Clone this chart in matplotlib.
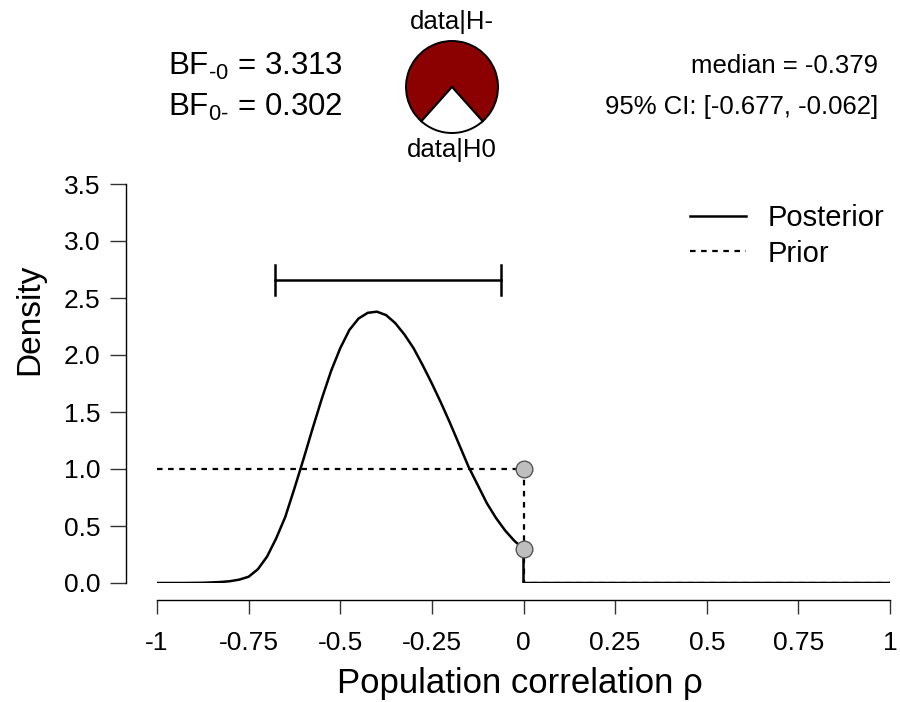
import matplotlib
matplotlib.use("Agg")
from matplotlib import pyplot as plt

plt.rcParams['font.family'] = ['Liberation Sans', 'DejaVu Sans']
plt.rcParams['mathtext.fontset'] = 'custom'
plt.rcParams['mathtext.rm'] = 'Liberation Sans'
plt.rcParams['mathtext.it'] = 'Liberation Sans:italic'

# posterior density (rho <= 0, one-sided)
rho = [-1.0, -0.975, -0.95, -0.925, -0.9, -0.875, -0.85, -0.825, -0.8, -0.775,
       -0.75, -0.725, -0.7, -0.675, -0.65, -0.625, -0.6, -0.575, -0.55, -0.525,
       -0.5, -0.475, -0.45, -0.425, -0.4, -0.375, -0.35, -0.325, -0.3, -0.275,
       -0.25, -0.225, -0.2, -0.175, -0.15, -0.125, -0.1, -0.075, -0.05, -0.025, 0.0]
post = [0.0, 0.0, 0.0, 0.0, 0.001, 0.002, 0.005, 0.009, 0.016, 0.03,
        0.055, 0.12, 0.23, 0.39, 0.58, 0.83, 1.09, 1.36, 1.62, 1.86,
        2.06, 2.22, 2.32, 2.37, 2.38, 2.35, 2.28, 2.18, 2.06, 1.91,
        1.75, 1.58, 1.40, 1.21, 1.02, 0.86, 0.70, 0.57, 0.46, 0.37, 0.30]
prior_x = [-1.0, 0.0]
prior_y = [1.0, 1.0]
zero_x = [0.0, 1.0]
zero_y = [0.0, 0.0]

bf_m0 = 3.313
bf_0m = 0.302
median = -0.379
ci = [-0.677, -0.062]
ci_height = 2.66

xticks = [-1, -0.75, -0.5, -0.25, 0, 0.25, 0.5, 0.75, 1]
xlabels = ['-1', '-0.75', '-0.5', '-0.25', '0', '0.25', '0.5', '0.75', '1']
yticks = [0, 0.5, 1, 1.5, 2, 2.5, 3, 3.5]
ylabels = ['0.0', '0.5', '1.0', '1.5', '2.0', '2.5', '3.0', '3.5']

W, H = 900, 702
fig = plt.figure(figsize=(9, 7.02), dpi=100)
ax = fig.add_axes([157 / W, 1 - 583 / H, 733 / W, 399 / H])
ax.set_xlim(-1, 1)
ax.set_ylim(0, 3.5)

# posterior: curve, drop at 0, flat zero for rho > 0
ax.plot(rho + [0.0] + zero_x, post + [0.0] + zero_y, color='black', lw=1.8, label='Posterior', zorder=3)
# prior
ax.plot(prior_x + [0.0] + zero_x, prior_y + [0.0] + zero_y, color='black', lw=1.6,
        ls=(0, (2.5, 2.5)), label='Prior', zorder=2)
# savage-dickey points
ax.plot([0, 0], [prior_y[-1], post[-1]], 'o', ms=12, mfc='#bebebe', mec='#555555', mew=1, zorder=4,
        clip_on=False)
# credible interval bar
ax.plot(ci, [ci_height, ci_height], color='black', lw=1.8)
for c in ci:
    ax.plot([c, c], [ci_height - 0.13, ci_height + 0.13], color='black', lw=1.8)

for s in ['top', 'right']:
    ax.spines[s].set_visible(False)
ax.spines['left'].set_position(('outward', 22.3))
ax.spines['bottom'].set_position(('outward', 12.2))
ax.spines['left'].set_bounds(0, 3.5)
ax.spines['bottom'].set_bounds(-1, 1)
ax.spines['left'].set_linewidth(1)
ax.spines['bottom'].set_linewidth(1)
ax.set_xticks(xticks)
ax.set_xticklabels(xlabels)
ax.set_yticks(yticks)
ax.set_yticklabels(ylabels)
ax.tick_params(axis='y', length=11.5, width=1, pad=7, labelsize=19, colors='#333333', labelcolor='black')
ax.tick_params(axis='x', length=10, width=1, pad=12, labelsize=19, colors='#333333', labelcolor='black')
ax.set_ylabel('Density', fontsize=24)
ax.set_xlabel('Population correlation ρ', fontsize=25)
ax.yaxis.set_label_coords(45 / W, 383 / H, transform=fig.transFigure)
ax.xaxis.set_label_coords(520 / W, 1 - 667 / H, transform=fig.transFigure)

ax.legend(frameon=False, fontsize=21, handlelength=1.9, handletextpad=0.75, labelspacing=0.25,
          loc='center left', bbox_to_anchor=(664 / W, 1 - 236 / H), bbox_transform=fig.transFigure)

# header texts
fig.text(168 / W, 1 - 66 / H, r'BF$_{\text{-0}}$ = %.3f' % bf_m0, fontsize=22.5, va='center', ha='left')
fig.text(168 / W, 1 - 107 / H, r'BF$_{\text{0-}}$ = %.3f' % bf_0m, fontsize=22.5, va='center', ha='left')
fig.text(878 / W, 1 - 66 / H, 'median = %.3f' % median, fontsize=18.5, va='center', ha='right')
fig.text(878 / W, 1 - 107 / H, '95%% CI: [%.3f, %.3f]' % (ci[0], ci[1]), fontsize=18.5, va='center', ha='right')

# probability wheel
pax = fig.add_axes([(452 - 50) / W, 1 - (87 + 50) / H, 100 / W, 100 / H])
pax.pie([bf_m0, 1], colors=['#8b0000', 'white'], startangle=311.75, counterclock=True,
        wedgeprops=dict(edgecolor='black', linewidth=1.4))
pax.set_xlim(-50 / 46, 50 / 46)
pax.set_ylim(-50 / 46, 50 / 46)
pax.set_aspect('equal')
pax.axis('off')
fig.text(452 / W, 1 - 22 / H, 'data|H-', fontsize=18.5, ha='center', va='center')
fig.text(452 / W, 1 - 150 / H, 'data|H0', fontsize=18.5, ha='center', va='center')

fig.savefig('out.png', dpi=100)
